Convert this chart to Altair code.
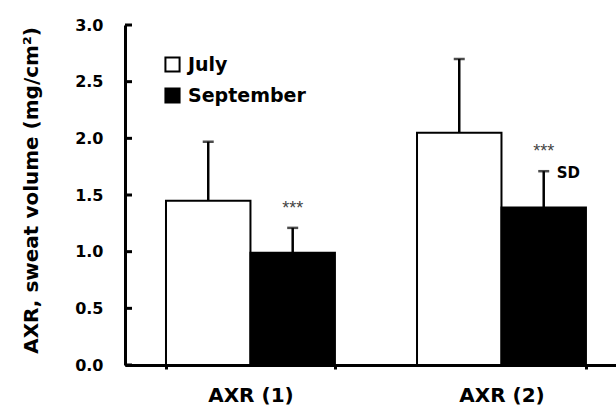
import altair as alt
import pandas as pd

categories = ["AXR (1)", "AXR (2)"]
series = ["July", "September"]
july_mean = [1.45, 2.05]
sept_mean = [0.99, 1.39]
july_sd = [0.52, 0.65]
sept_sd = [0.22, 0.32]
sept_sig = ["***", "***"]
sd_note = ["", "SD"]
y_ticks = [0.0, 0.5, 1.0, 1.5, 2.0, 2.5, 3.0]

rows = []
for i, c in enumerate(categories):
    rows.append({"cat": c, "series": "July", "mean": july_mean[i], "top": july_mean[i] + july_sd[i], "sig": "", "note": ""})
    rows.append({"cat": c, "series": "September", "mean": sept_mean[i], "top": sept_mean[i] + sept_sd[i], "sig": sept_sig[i], "note": sd_note[i]})
df = pd.DataFrame(rows)
tick_df = pd.DataFrame({"v": y_ticks})

FONT = "DejaVu Sans"

xscale = alt.Scale(domain=categories, paddingInner=0.327, paddingOuter=0.1415, align=0.577)
yscale = alt.Scale(domain=[0, 3], nice=False, zero=True)

x_enc = alt.X("cat:N", scale=xscale, sort=categories,
              axis=alt.Axis(title=None, labelAngle=0, labelFont=FONT, labelFontSize=20,
                            labelFontWeight="bold", labelColor="black", labelPadding=16,
                            domainColor="black", domainWidth=3, ticks=True, tickBand="extent",
                            tickSize=4, tickWidth=3, tickColor="black"))
xo_enc = alt.XOffset("series:N", scale=alt.Scale(domain=series, paddingInner=0, paddingOuter=0))

y_axis = alt.Axis(title="AXR, sweat volume (mg/cm²)", values=y_ticks, format=".1f",
                  labelFont=FONT, labelFontSize=16, labelFontWeight="bold", labelColor="black",
                  labelPadding=22, ticks=False, domainColor="black", domainWidth=3, grid=False,
                  titleFont=FONT, titleFontSize=20, titleFontWeight="bold", titleColor="black",
                  titleX=-94, titleY=165, titleAlign="center", titleBaseline="middle", titleAngle=-90)

base = alt.Chart(df)

bars = base.mark_bar(stroke="black", strokeWidth=2).encode(
    x=x_enc, xOffset=xo_enc,
    y=alt.Y("mean:Q", scale=yscale, axis=y_axis),
    fill=alt.Fill("series:N", scale=alt.Scale(domain=series, range=["white", "black"]),
                  legend=alt.Legend(title=None, orient="none", legendX=38, legendY=30,
                                    symbolType="square", symbolSize=200, symbolStrokeColor="black",
                                    symbolStrokeWidth=2, labelFont=FONT, labelFontSize=19,
                                    labelFontWeight="bold", labelColor="black", labelOffset=6,
                                    rowPadding=8, padding=0)),
)

err = base.mark_rule(color="black", strokeWidth=2.5).encode(
    x=x_enc, xOffset=xo_enc, y=alt.Y("mean:Q", scale=yscale), y2="top:Q")

caps = base.mark_tick(color="black", thickness=2.5, size=11).encode(
    x=x_enc, xOffset=xo_enc, y=alt.Y("top:Q", scale=yscale))

stars = base.mark_text(font="Liberation Sans", fontSize=18, color="#444", dy=-19).encode(
    x=x_enc, xOffset=xo_enc, y=alt.Y("top:Q", scale=yscale), text="sig:N")

note = base.mark_text(font=FONT, fontSize=15, fontWeight="bold", color="black", align="left",
                      dx=13, dy=2).encode(
    x=x_enc, xOffset=xo_enc, y=alt.Y("top:Q", scale=yscale), text="note:N")

yt = alt.Chart(tick_df).mark_rule(color="black", strokeWidth=3).encode(
    y=alt.Y("v:Q", scale=yscale), x=alt.value(0), x2=alt.value(7))

chart = alt.layer(bars, err, caps, stars, note, yt).properties(
    width=491, height=340,
    autosize=alt.AutoSizeParams(type="none"),
    padding={"left": 125, "top": 25, "right": 0, "bottom": 50},
    background="white",
).configure_view(stroke=None)

chart.save("out.html", embed_options={"renderer": "svg", "actions": False})
